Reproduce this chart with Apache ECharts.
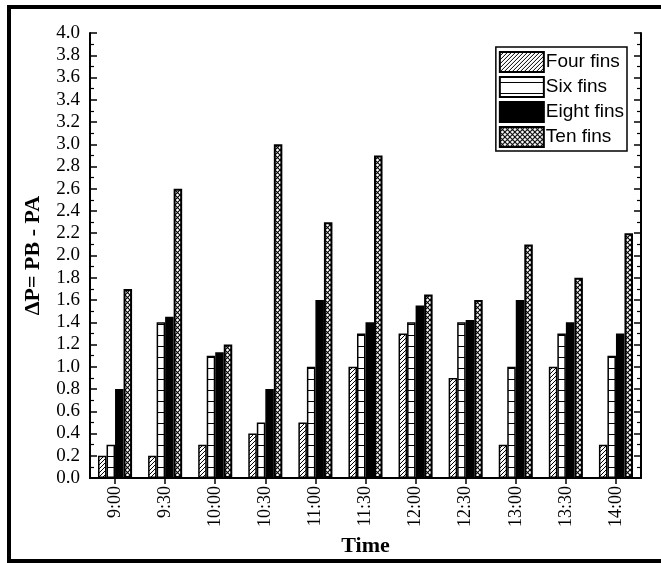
<!DOCTYPE html>
<html>
<head>
<meta charset="utf-8">
<script src="https://cdn.jsdelivr.net/npm/echarts@6/dist/echarts.min.js"></script>
<style>
  html, body { margin: 0; padding: 0; background: #fff; }
  #container { width: 661px; height: 563px; }
</style>
</head>
<body>
<div id="container"></div>
<script>
var times = ['9:00', '9:30', '10:00', '10:30', '11:00', '11:30', '12:00', '12:30', '13:00', '13:30', '14:00'];
var fourFins = [0.2, 0.2, 0.3, 0.4, 0.5, 1.0, 1.3, 0.9, 0.3, 1.0, 0.3];
var sixFins = [0.3, 1.4, 1.1, 0.5, 1.0, 1.3, 1.4, 1.4, 1.0, 1.3, 1.1];
var eightFins = [0.8, 1.45, 1.13, 0.8, 1.6, 1.4, 1.55, 1.42, 1.6, 1.4, 1.3];
var tenFins = [1.7, 2.6, 1.2, 3.0, 2.3, 2.9, 1.65, 1.6, 2.1, 1.8, 2.2];

var serif = 'Liberation Serif';
var sans = 'Liberation Sans';

// small canvas tiles used as bar fills
function makeTile(w, h, draw) {
    var c = document.createElement('canvas');
    c.width = w;
    c.height = h;
    var ctx = c.getContext('2d');
    ctx.fillStyle = '#fff';
    ctx.fillRect(0, 0, w, h);
    ctx.strokeStyle = '#000';
    ctx.lineWidth = 1;
    draw(ctx);
    return c;
}

var diagTile = makeTile(4, 4, function (ctx) {
    ctx.beginPath();
    ctx.moveTo(-1, 5); ctx.lineTo(5, -1);
    ctx.moveTo(-1, 1); ctx.lineTo(1, -1);
    ctx.moveTo(3, 5); ctx.lineTo(5, 3);
    ctx.stroke();
});
var horizTile = makeTile(4, 11, function (ctx) {
    ctx.beginPath();
    ctx.moveTo(0, 5.5); ctx.lineTo(4, 5.5);
    ctx.stroke();
});
var crossTile = makeTile(5, 5, function (ctx) {
    ctx.lineWidth = 1.1;
    ctx.beginPath();
    ctx.moveTo(0, 0); ctx.lineTo(5, 5);
    ctx.moveTo(0, 5); ctx.lineTo(5, 0);
    ctx.stroke();
});

function pattern(tile) {
    return { image: tile, repeat: 'repeat' };
}

function barSeries(name, data, fill, border) {
    return {
        name: name,
        type: 'bar',
        data: data,
        barGap: '0%',
        barCategoryGap: '32%',
        itemStyle: { color: fill, borderColor: '#000', borderWidth: border },
        emphasis: { disabled: true }
    };
}

var myChart = echarts.init(document.getElementById('container'));
var option = {
    backgroundColor: '#fff',
    animation: false,
    grid: { left: 90, right: 20, top: 33, bottom: 85 },
    legend: {
        orient: 'vertical',
        right: 34,
        top: 47,
        itemWidth: 44,
        itemHeight: 20,
        itemGap: 3,
        padding: [4, 3, 3, 3],
        borderColor: '#000',
        borderWidth: 1.5,
        backgroundColor: '#fff',
        icon: 'rect',
        textStyle: { fontFamily: sans, fontSize: 19, color: '#000', padding: [0, 0, 0, -3] },
        data: ['Four fins', 'Six fins', 'Eight fins', 'Ten fins']
    },
    xAxis: [{
        type: 'category',
        data: times,
        name: 'Time',
        nameLocation: 'middle',
        nameGap: 54,
        nameTextStyle: { fontFamily: serif, fontSize: 22, fontWeight: 'bold', color: '#000' },
        axisLine: { lineStyle: { color: '#000', width: 2 } },
        axisTick: { show: false },
        axisLabel: { rotate: 90, margin: 8, fontFamily: serif, fontSize: 18, color: '#000' }
    }, {
        type: 'category',
        data: times,
        position: 'top',
        axisLine: { lineStyle: { color: '#000', width: 2 } },
        axisTick: { show: true, inside: true, alignWithLabel: true, length: 6, lineStyle: { color: '#000', width: 1.5 } },
        axisLabel: { show: false }
    }],
    yAxis: [{
        type: 'value',
        min: 0,
        max: 4,
        interval: 0.2,
        name: 'ΔP= PB - PA',
        nameLocation: 'middle',
        nameGap: 46,
        nameTextStyle: { fontFamily: serif, fontSize: 22, fontWeight: 'bold', color: '#000' },
        axisLine: { show: true, lineStyle: { color: '#000', width: 2 } },
        axisTick: { show: true, inside: true, length: 7, lineStyle: { color: '#000', width: 1.5 } },
        minorTick: { show: true, splitNumber: 2, length: 4, lineStyle: { color: '#000', width: 1.2 } },
        splitLine: { show: false },
        axisLabel: {
            margin: 10,
            fontFamily: serif,
            fontSize: 19,
            color: '#000',
            formatter: function (v) { return v.toFixed(1); }
        }
    }, {
        type: 'value',
        min: 0,
        max: 4,
        interval: 0.2,
        position: 'right',
        axisLine: { show: true, lineStyle: { color: '#000', width: 2 } },
        axisTick: { show: true, inside: true, length: 7, lineStyle: { color: '#000', width: 1.5 } },
        minorTick: { show: true, splitNumber: 2, length: 4, lineStyle: { color: '#000', width: 1.2 } },
        splitLine: { show: false },
        axisLabel: { show: false }
    }],
    series: [
        barSeries('Four fins', fourFins, pattern(diagTile), 1.5),
        barSeries('Six fins', sixFins, pattern(horizTile), 1.5),
        barSeries('Eight fins', eightFins, '#000', 1.5),
        barSeries('Ten fins', tenFins, pattern(crossTile), 2)
    ],
    graphic: [{
        type: 'rect',
        shape: { x: 9, y: 7, width: 700, height: 554 },
        style: { fill: null, stroke: '#000', lineWidth: 4 },
        silent: true
    }]
};
myChart.setOption(option);
</script>
</body>
</html>
